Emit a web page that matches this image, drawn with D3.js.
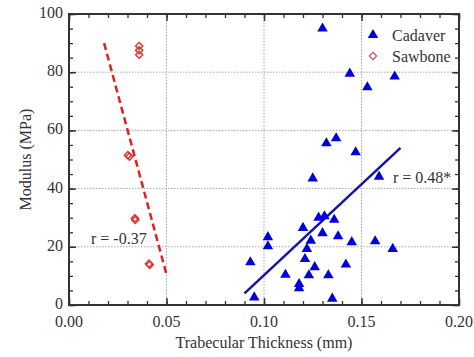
<!DOCTYPE html>
<html>
<head>
<meta charset="utf-8">
<script src="https://cdn.jsdelivr.net/npm/d3@7"></script>
<style>
  body { margin: 0; background: #fff; }
  svg text { font-family: "Liberation Serif", "Times New Roman", serif; fill: #333; }
</style>
</head>
<body>
<div id="chart-container"></div>
<script>
const margin = { top: 14, right: 15, bottom: 52, left: 69 };
const width = 474 - margin.left - margin.right;
const height = 357 - margin.top - margin.bottom;

// cadaver specimens: thickness (mm), modulus (MPa)
const cadaverX = [0.130, 0.144, 0.167, 0.153, 0.132, 0.137, 0.147, 0.125, 0.159,
  0.128, 0.131, 0.136, 0.120, 0.102, 0.102, 0.130, 0.124, 0.138, 0.145, 0.157,
  0.166, 0.122, 0.093, 0.121, 0.126, 0.142, 0.111, 0.123, 0.133, 0.118, 0.118,
  0.095, 0.135];
const cadaverY = [95, 79.5, 78.5, 74.8, 55.6, 57.3, 52.5, 43.5, 44.1,
  30, 30.5, 29.3, 26.5, 23.3, 20.2, 24.7, 22.1, 23.6, 21.6, 21.9,
  19.3, 19.3, 14.7, 15.8, 13.0, 13.9, 10.4, 10.2, 10.2, 7.2, 5.8,
  2.6, 2.2];

// sawbone specimens
const sawboneX = [0.036, 0.036, 0.036, 0.0302, 0.031, 0.0338, 0.034, 0.041, 0.0414];
const sawboneY = [89, 87.5, 86, 51.5, 51, 29.8, 29.2, 14.2, 13.8];

// fitted lines (end points)
const cadaverFitX = [0.09, 0.17];
const cadaverFitY = [4, 54];
const sawboneFitX = [0.018, 0.05];
const sawboneFitY = [90, 10.5];

const xTicks = [0, 0.05, 0.10, 0.15, 0.20];
const yTicks = [0, 20, 40, 60, 80, 100];

const svg = d3.select("#chart-container")
  .append("svg")
  .attr("width", width + margin.left + margin.right)
  .attr("height", height + margin.top + margin.bottom)
  .append("g")
  .attr("transform", `translate(${margin.left},${margin.top})`);

const x = d3.scaleLinear().domain([0, 0.2]).range([0, width]);
const y = d3.scaleLinear().domain([0, 100]).range([height, 0]);

// dotted grid
svg.selectAll(".vgrid")
  .data(xTicks.slice(1, -1))
  .enter().append("line")
  .attr("x1", d => x(d)).attr("x2", d => x(d))
  .attr("y1", 0).attr("y2", height)
  .attr("stroke", "#aaa").attr("stroke-width", 1)
  .attr("stroke-dasharray", "1.5,1.5");

svg.selectAll(".hgrid")
  .data(yTicks.slice(1, -1))
  .enter().append("line")
  .attr("x1", 0).attr("x2", width)
  .attr("y1", d => y(d)).attr("y2", d => y(d))
  .attr("stroke", "#aaa").attr("stroke-width", 1)
  .attr("stroke-dasharray", "1.5,1.5");

// minor/major ticks, drawn inward on all four sides
const xMinor = d3.range(0, 0.2001, 0.01);
const yMinor = d3.range(0, 100.01, 5);

function addAxis(axis, minor, major, transform) {
  svg.append("g").attr("transform", transform)
    .call(axis.tickValues(minor).tickSize(-4).tickFormat(""))
    .call(g => g.select(".domain").remove())
    .selectAll("line").attr("stroke", "#333").attr("stroke-width", 1.3);
  svg.append("g").attr("transform", transform)
    .call(axis.tickValues(major).tickSize(-7).tickFormat(""))
    .call(g => g.select(".domain").remove())
    .selectAll("line").attr("stroke", "#333").attr("stroke-width", 1.5);
}
addAxis(d3.axisBottom(x), xMinor, xTicks, `translate(0,${height})`);
addAxis(d3.axisTop(x), xMinor, xTicks, "translate(0,0)");
addAxis(d3.axisLeft(y), yMinor, yTicks, "translate(0,0)");
addAxis(d3.axisRight(y), yMinor, yTicks, `translate(${width},0)`);

svg.append("rect")
  .attr("width", width).attr("height", height)
  .attr("fill", "none").attr("stroke", "#333").attr("stroke-width", 2);

// tick labels
svg.selectAll(".xlab")
  .data(xTicks)
  .enter().append("text")
  .attr("x", d => x(d)).attr("y", height + 22)
  .attr("text-anchor", "middle")
  .style("font-size", "16px")
  .text(d => d3.format(".2f")(d));

svg.selectAll(".ylab")
  .data(yTicks)
  .enter().append("text")
  .attr("x", -6).attr("y", d => y(d) + 4)
  .attr("text-anchor", "end")
  .style("font-size", "16px")
  .text(d => d);

svg.append("text")
  .attr("x", width / 2).attr("y", height + 43)
  .attr("text-anchor", "middle")
  .style("font-size", "16px")
  .text("Trabecular Thickness (mm)");

svg.append("text")
  .attr("transform", "rotate(-90)")
  .attr("x", -height / 2).attr("y", -38)
  .attr("text-anchor", "middle")
  .style("font-size", "16px")
  .text("Modulus (MPa)");

// fit lines
svg.append("line")
  .attr("x1", x(sawboneFitX[0])).attr("y1", y(sawboneFitY[0]))
  .attr("x2", x(sawboneFitX[1])).attr("y2", y(sawboneFitY[1]))
  .attr("stroke", "#e02020").attr("stroke-width", 2.5)
  .attr("stroke-dasharray", "7,4");

svg.append("line")
  .attr("x1", x(cadaverFitX[0])).attr("y1", y(cadaverFitY[0]))
  .attr("x2", x(cadaverFitX[1])).attr("y2", y(cadaverFitY[1]))
  .attr("stroke", "#1414a8").attr("stroke-width", 2.5);

// markers
const tri = d3.symbol().type(d3.symbolTriangle).size(48);
const dia = d3.symbol().type(d3.symbolSquare).size(26);

svg.selectAll(".cad")
  .data(cadaverX)
  .enter().append("path")
  .attr("d", tri)
  .attr("transform", (d, i) => `translate(${x(d)},${y(cadaverY[i])})`)
  .attr("fill", "#0000dd");

svg.selectAll(".saw")
  .data(sawboneX)
  .enter().append("path")
  .attr("d", dia)
  .attr("transform", (d, i) => `translate(${x(d)},${y(sawboneY[i])}) rotate(45)`)
  .attr("fill", "none").attr("stroke", "#e03030").attr("stroke-width", 1.4);

// r labels
svg.append("text")
  .attr("x", 22).attr("y", y(20) - 3)
  .style("font-size", "16px")
  .text("r = -0.37");

svg.append("text")
  .attr("x", 324).attr("y", y(41) - 3)
  .style("font-size", "16px")
  .text("r = 0.48*");

// legend
svg.append("path").attr("d", tri)
  .attr("transform", `translate(304,${21})`)
  .attr("fill", "#0000dd");
svg.append("text").attr("x", 323).attr("y", 27)
  .style("font-size", "16px").text("Cadaver");
svg.append("path").attr("d", dia)
  .attr("transform", `translate(304,${42}) rotate(45)`)
  .attr("fill", "none").attr("stroke", "#c05050").attr("stroke-width", 1.2);
svg.append("text").attr("x", 323).attr("y", 48)
  .style("font-size", "16px").text("Sawbone");
</script>
</body>
</html>
